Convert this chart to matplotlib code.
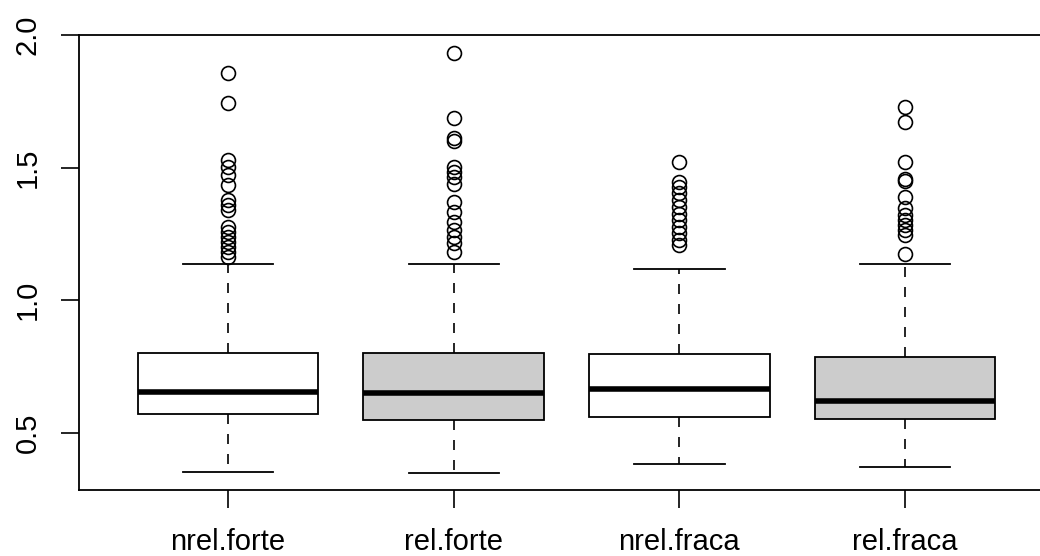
import matplotlib
matplotlib.use("Agg")
import matplotlib.pyplot as plt

# dados
categorias = ["nrel.forte", "rel.forte", "nrel.fraca", "rel.fraca"]
whisker_inf = [0.352, 0.348, 0.381, 0.371]
q1 = [0.572, 0.550, 0.560, 0.554]
mediana = [0.654, 0.650, 0.667, 0.620]
q3 = [0.803, 0.803, 0.799, 0.786]
whisker_sup = [1.136, 1.136, 1.117, 1.136]
outliers = [
    [1.855, 1.742, 1.528, 1.503, 1.472, 1.434, 1.377, 1.358, 1.340,
     1.277, 1.258, 1.239, 1.220, 1.201, 1.182, 1.164],
    [1.933, 1.689, 1.610, 1.600, 1.501, 1.484, 1.465, 1.440, 1.371,
     1.333, 1.295, 1.264, 1.239, 1.214, 1.182],
    [1.522, 1.446, 1.428, 1.403, 1.377, 1.352, 1.327, 1.302, 1.277,
     1.252, 1.226, 1.208],
    [1.729, 1.673, 1.522, 1.459, 1.450, 1.390, 1.346, 1.321, 1.302,
     1.283, 1.264, 1.245, 1.176],
]
cores = ["white", "#cccccc", "white", "#cccccc"]
y_ticks = [0.5, 1.0, 1.5, 2.0]

plt.rcParams["font.family"] = ["Liberation Sans", "DejaVu Sans"]

fig = plt.figure(figsize=(10.4, 5.56), dpi=100)
ax = fig.add_axes([0.076, 0.1187, 0.9375, 0.8183])

stats = []
for i, nome in enumerate(categorias):
    stats.append(dict(label=nome, whislo=whisker_inf[i], q1=q1[i],
                      med=mediana[i], q3=q3[i], whishi=whisker_sup[i],
                      fliers=outliers[i]))

bp = ax.bxp(stats, positions=range(1, 5), widths=0.8, patch_artist=True,
            showfliers=True,
            boxprops=dict(edgecolor="black", linewidth=1.3),
            medianprops=dict(color="black", linewidth=4, solid_capstyle="butt"),
            whiskerprops=dict(color="black", linewidth=1.2, linestyle=(0, (6, 6))),
            capprops=dict(color="black", linewidth=1.3),
            flierprops=dict(marker="o", markersize=10, markerfacecolor="none",
                            markeredgecolor="black", markeredgewidth=1.2))
for caixa, c in zip(bp["boxes"], cores):
    caixa.set_facecolor(c)
for cap in bp["caps"]:
    x0, x1 = cap.get_xdata()
    mid = (x0 + x1) / 2
    cap.set_xdata([mid - 0.2, mid + 0.2])

# limites como no R (extensão de 4%)
todos = whisker_inf + whisker_sup + [v for o in outliers for v in o]
lo, hi = min(todos), max(todos)
ext = 0.04 * (hi - lo)
ax.set_ylim(lo - ext, hi + ext)
ax.set_xlim(0.5 - 0.16, 4.5 + 0.16)

ax.set_yticks(y_ticks)
ax.set_yticklabels([f"{v:.1f}" for v in y_ticks], rotation=90, va="center")
ax.set_xticks(range(1, 5))
ax.set_xticklabels(categorias)
ax.tick_params(axis="both", labelsize=21, length=13, width=1.2, colors="black")
ax.tick_params(axis="x", pad=14)
ax.tick_params(axis="y", pad=14)
for s in ax.spines.values():
    s.set_linewidth(1.3)

fig.savefig("out.png", dpi=100)
